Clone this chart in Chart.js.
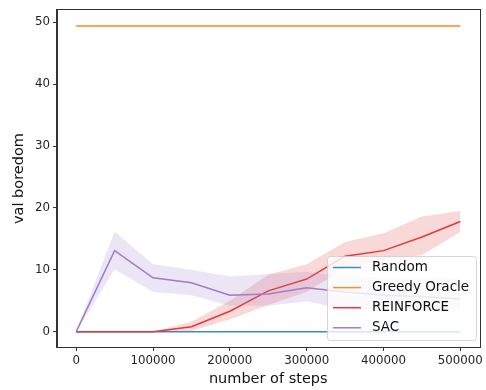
<!DOCTYPE html>
<html>
<head>
<meta charset="utf-8">
<script src="https://cdn.jsdelivr.net/npm/chart.js@4.4.1/dist/chart.umd.min.js"></script>
<style>
  html, body { margin: 0; padding: 0; background: #fff; }
  canvas { display: block; }
</style>
</head>
<body>
<canvas id="chart" width="486" height="390"></canvas>
<script>
// training curves: mean with a shaded min/max band per method
const steps = [0, 50000, 100000, 150000, 200000, 250000, 300000, 350000, 400000, 450000, 500000];

const randomMean = [0, 0, 0, 0, 0, 0, 0, 0, 0, 0, 0];

const greedyMean = [49.4, 49.4, 49.4, 49.4, 49.4, 49.4, 49.4, 49.4, 49.4, 49.4, 49.4];
const greedyLow  = [49.25, 49.25, 49.25, 49.25, 49.25, 49.25, 49.25, 49.25, 49.25, 49.25, 49.25];
const greedyHigh = [49.55, 49.55, 49.55, 49.55, 49.55, 49.55, 49.55, 49.55, 49.55, 49.55, 49.55];

const reinforceMean = [0, 0, 0, 0.8, 3.3, 6.6, 8.5, 12.2, 13.1, 15.3, 17.8];
const reinforceLow  = [0, 0, 0, 0.1, 2.0, 4.3, 6.4, 10.3, 11.6, 12.4, 16.1];
const reinforceHigh = [0, 0, 0, 1.6, 5.0, 9.2, 10.9, 14.5, 15.9, 18.6, 19.5];

const sacMean = [0, 13.1, 8.7, 7.9, 5.9, 6.1, 7.1, 6.4, 5.9, 5.7, 5.3];
const sacLow  = [0, 10.1, 6.4, 5.9, 4.2, 4.2, 4.9, 3.6, 3.6, 3.5, 3.5];
const sacHigh = [0, 16.2, 10.9, 10.0, 8.9, 9.3, 9.7, 8.9, 8.8, 8.7, 8.6];

const xTicks = [0, 100000, 200000, 300000, 400000, 500000];
const yTicks = [0, 10, 20, 30, 40, 50];

const seriesNames = ['Random', 'Greedy Oracle', 'REINFORCE', 'SAC'];
const seriesColors = ['#3a8ccc', '#ff8c2a', '#e03a3a', '#a07ccc'];

const FONT = 'DejaVu Sans';
const LINE_W = 1.5;

function pts(ys) {
  return steps.map((x, i) => ({ x: x, y: ys[i] }));
}

function hexA(hex, a) {
  const n = parseInt(hex.slice(1), 16);
  return `rgba(${(n >> 16) & 255}, ${(n >> 8) & 255}, ${n & 255}, ${a})`;
}

// lower edge, upper edge filled down to it, then the mean line on top
function bandSets(idx, low, high, order) {
  const c = seriesColors[idx];
  return [
    { data: pts(low), borderColor: 'transparent', borderWidth: 0, pointRadius: 0,
      fill: false, order: order + 0.2 },
    { data: pts(high), borderColor: 'transparent', borderWidth: 0, pointRadius: 0,
      fill: '-1', backgroundColor: hexA(c, 0.2), order: order + 0.1 }
  ];
}

function lineSet(idx, ys, order) {
  return {
    label: seriesNames[idx],
    data: pts(ys),
    borderColor: seriesColors[idx],
    borderWidth: LINE_W,
    pointRadius: 0,
    fill: false,
    tension: 0,
    order: order
  };
}

const datasets = [
  lineSet(0, randomMean, 40),
  ...bandSets(1, greedyLow, greedyHigh, 30),
  lineSet(1, greedyMean, 30),
  ...bandSets(2, reinforceLow, reinforceHigh, 20),
  lineSet(2, reinforceMean, 20),
  ...bandSets(3, sacLow, sacHigh, 10),
  lineSet(3, sacMean, 10)
];

// box around the plot plus a matplotlib-style legend in the lower right
const framePlugin = {
  id: 'frame',
  afterDraw(chart) {
    const { ctx, chartArea: a } = chart;
    ctx.save();

    // legend
    const lx = 327.5, ly = 256.5, lw = 149, lh = 84, r = 3;
    ctx.beginPath();
    ctx.roundRect(lx, ly, lw, lh, r);
    ctx.fillStyle = 'rgba(255,255,255,0.8)';
    ctx.fill();
    ctx.strokeStyle = 'rgba(204,204,204,0.8)';
    ctx.lineWidth = 1;
    ctx.stroke();

    ctx.font = `13.5px "${FONT}"`;
    ctx.textBaseline = 'middle';
    ctx.textAlign = 'left';
    seriesNames.forEach((name, i) => {
      const y = 267.5 + i * 20.1;
      ctx.beginPath();
      ctx.moveTo(333, y);
      ctx.lineTo(361, y);
      ctx.strokeStyle = seriesColors[i];
      ctx.lineWidth = LINE_W;
      ctx.stroke();
      ctx.fillStyle = '#111';
      ctx.fillText(name, 372, y);
    });

    // spines
    ctx.strokeStyle = '#333';
    ctx.lineWidth = 1;
    ctx.strokeRect(Math.round(a.left) - 0.5, Math.round(a.top) - 0.5,
      Math.round(a.right - a.left) + 1, Math.round(a.bottom - a.top) + 1);
    ctx.restore();
  }
};

const tickFont = { family: FONT, size: 11.8 };
const titleFont = { family: FONT, size: 14.5 };

new Chart(document.getElementById('chart'), {
  type: 'line',
  data: { datasets: datasets },
  options: {
    responsive: false,
    animation: false,
    devicePixelRatio: 1,
    layout: { padding: { top: 9, right: 4, left: 0, bottom: 0 } },
    plugins: {
      legend: { display: false },
      tooltip: { enabled: false },
      filler: { propagate: false }
    },
    scales: {
      x: {
        type: 'linear',
        min: -25000,
        max: 525000,
        afterBuildTicks: s => { s.ticks = xTicks.map(v => ({ value: v })); },
        afterFit: s => { s.height = 43; },
        grid: { display: true, drawOnChartArea: false, drawTicks: true, tickLength: 4, color: '#333' },
        border: { display: true, color: '#333' },
        ticks: { font: tickFont, color: '#222', padding: 3, maxRotation: 0, callback: v => String(v) },
        title: { display: true, text: 'number of steps', font: titleFont, color: '#111', padding: { top: 0, bottom: 2 } }
      },
      y: {
        type: 'linear',
        min: -2.475,
        max: 51.975,
        afterBuildTicks: s => { s.ticks = yTicks.map(v => ({ value: v })); },
        afterFit: s => { s.width = 57; },
        grid: { display: true, drawOnChartArea: false, drawTicks: true, tickLength: 4, color: '#333' },
        border: { display: true, color: '#333' },
        ticks: { font: tickFont, color: '#222', padding: 3, callback: v => String(v) },
        title: { display: true, text: 'val boredom', font: titleFont, color: '#111', padding: { top: 11, bottom: 0 } }
      }
    }
  },
  plugins: [framePlugin]
});
</script>
</body>
</html>
